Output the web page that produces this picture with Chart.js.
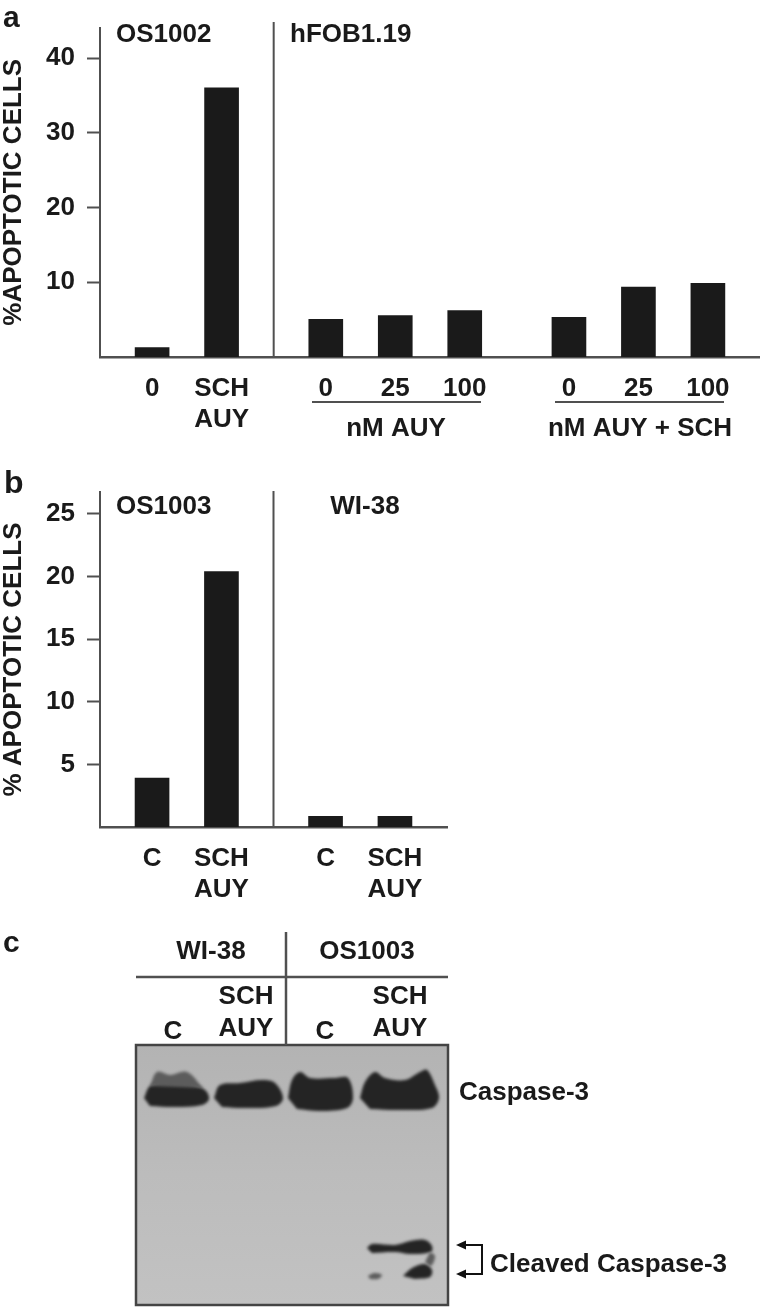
<!DOCTYPE html>
<html><head><meta charset="utf-8">
<script src="https://cdn.jsdelivr.net/npm/chart.js@4"></script>
<style>
html,body{margin:0;padding:0;background:#fff;width:760px;height:1309px;overflow:hidden}
canvas{position:absolute;left:0;filter:blur(0.55px)}
</style></head><body>
<canvas id="a" width="760" height="450" style="top:0"></canvas>
<canvas id="b" width="760" height="450" style="top:460px"></canvas>
<canvas id="c" width="760" height="389" style="top:920px"></canvas>
<script>
// Panel a
const aCategories = ['', '0', '', ['SCH','AUY'], '', '', '0', '', '25', '', '100', '', '', '0', '', '25', '', '100', ''];
const aValues = [null, 1.25, null, 36.05, null, null, 5.05, null, 5.55, null, 6.2, null, null, 5.3, null, 9.35, null, 9.85, null];
const aTicks = [10, 20, 30, 40];
const aYTitle = '%APOPTOTIC CELLS';
// Panel b
const bCategories = ['', 'C', '', ['SCH','AUY'], '', '', 'C', '', ['SCH','AUY'], ''];
const bValues = [null, 3.9, null, 20.4, null, null, 0.85, null, 0.85, null];
const bTicks = [5, 10, 15, 20, 25];
const bYTitle = '% APOPTOTIC CELLS';
// Panel c: blot band outlines
const bandCores = [
  [[144,1098],[150,1086],[165,1082],[190,1084],[205,1090],[209,1099],[202,1105],[175,1107],[150,1106]],
  [[214,1098],[220,1085],[240,1083],[262,1080],[275,1083],[283,1098],[276,1106],[245,1108],[222,1107]],
  [[288,1098],[292,1080],[300,1072],[310,1078],[335,1078],[348,1078],[353,1098],[347,1108],[320,1111],[297,1109]],
  [[360,1098],[365,1082],[375,1072],[385,1078],[405,1080],[420,1072],[427,1070],[435,1085],[439,1098],[432,1108],[400,1110],[370,1109]],
  [[367,1248],[372,1244],[395,1245],[410,1241],[425,1240],[432,1246],[431,1252],[410,1254],[395,1252],[372,1253]],
  [[403,1276],[412,1268],[425,1264],[432,1270],[430,1277],[415,1279]]
];
const bandHaze = [
  [[150,1086],[157,1072],[170,1075],[187,1072],[203,1088]],
  [[430,1252],[435,1256],[431,1266],[425,1262]],
  [[368,1276],[374,1273],[382,1275],[378,1279],[370,1279]]
];

const FONT = '"Liberation Sans", Arial, sans-serif';
const INK = '#1a1a1a', LINE = '#505050';
Chart.defaults.font.family = FONT;
Chart.defaults.animation = false;

function drawText(ctx, items){
  ctx.save();
  ctx.fillStyle = INK;
  ctx.textBaseline = 'alphabetic';
  for (const t of items){
    ctx.font = 'bold ' + (t.size || 26) + 'px ' + FONT;
    ctx.textAlign = t.align || 'center';
    ctx.fillText(t.text, t.x, t.y);
  }
  ctx.restore();
}
function drawLines(ctx, items){
  ctx.save();
  ctx.strokeStyle = LINE;
  for (const l of items){
    ctx.lineWidth = l.w || 2;
    ctx.beginPath(); ctx.moveTo(l.x1, l.y1); ctx.lineTo(l.x2, l.y2); ctx.stroke();
  }
  ctx.restore();
}

function barChart(id, cats, vals, ticks, yMax, title, top, bottom, padRight, xFit, extra){
  return new Chart(document.getElementById(id), {
    type: 'bar',
    data: { labels: cats, datasets: [{ data: vals, backgroundColor: INK, barThickness: 34, borderWidth: 0 }] },
    options: {
      responsive: false,
      layout: { padding: { top: top, right: padRight, left: 0, bottom: 0 } },
      plugins: { legend: { display: false }, tooltip: { enabled: false } },
      scales: {
        x: {
          grid: { display: false, drawTicks: false },
          border: { color: LINE, width: 2.5 },
          ticks: { autoSkip: false, maxRotation: 0, minRotation: 0, padding: 16, color: INK,
                   font: { size: 26, weight: 'bold', lineHeight: 1.2 } },
          afterFit: s => { s.height = xFit; }
        },
        y: {
          min: 0, max: yMax,
          afterBuildTicks: s => { s.ticks = ticks.map(v => ({ value: v })); },
          grid: { drawOnChartArea: false, tickLength: 13, tickWidth: 2, color: LINE },
          border: { color: LINE, width: 2 },
          ticks: { padding: 12, color: INK, font: { size: 26, weight: 'bold' } },
          title: { display: true, text: title, color: INK, padding: { top: 1, bottom: 0 },
                   font: { size: 26, weight: 'bold', lineHeight: 1 } },
          afterFit: s => { s.width = 100; }
        }
      }
    },
    plugins: [{ id: 'notes', afterDraw: c => extra(c) }]
  });
}

barChart('a', aCategories, aValues, aTicks, 44.1, aYTitle, 23, 0, 0, 93, c => {
  const x = c.scales.x, ctx = c.ctx, a = c.chartArea;
  drawLines(ctx, [
    { x1: x.getPixelForValue(4.5), y1: 22, x2: x.getPixelForValue(4.5), y2: a.bottom },
    { x1: 312, y1: 402, x2: 481, y2: 402 },
    { x1: 555, y1: 402, x2: 724, y2: 402 }
  ]);
  drawText(ctx, [
    { text: 'a', x: 3, y: 27, align: 'left', size: 30 },
    { text: 'OS1002', x: 116, y: 42, align: 'left' },
    { text: 'hFOB1.19', x: 290, y: 42, align: 'left' },
    { text: 'nM AUY', x: 396, y: 436 },
    { text: 'nM AUY + SCH', x: 640, y: 436 }
  ]);
});

barChart('b', bCategories, bValues, bTicks, 26.75, bYTitle, 32, 0, 313, 83, c => {
  const x = c.scales.x, ctx = c.ctx, a = c.chartArea;
  drawLines(ctx, [{ x1: x.getPixelForValue(4.5), y1: 31, x2: x.getPixelForValue(4.5), y2: a.bottom }]);
  drawText(ctx, [
    { text: 'b', x: 4, y: 33, align: 'left', size: 32 },
    { text: 'OS1003', x: 116, y: 54, align: 'left' },
    { text: 'WI-38', x: 365, y: 54 }
  ]);
});

const bandSet = (pts, colour) => ({
  data: pts.map(p => ({ x: p[0], y: p[1] })),
  showLine: true, borderWidth: 0, pointRadius: 0, tension: 0.35,
  fill: 'shape', backgroundColor: colour, borderColor: colour
});
new Chart(document.getElementById('c'), {
  type: 'scatter',
  data: { datasets: [
    ...bandHaze.map(p => bandSet(p, '#5c5c5c')),
    ...bandCores.map(p => bandSet(p, '#242424'))
  ]},
  options: {
    responsive: false,
    layout: { padding: { left: 136, right: 312, top: 125, bottom: 4 } },
    plugins: { legend: { display: false }, tooltip: { enabled: false } },
    scales: {
      x: { type: 'linear', display: false, min: 136, max: 448 },
      y: { type: 'linear', display: false, min: 1045, max: 1305, reverse: true }
    }
  },
  plugins: [{
    id: 'blot',
    beforeDatasetsDraw(c){
      const a = c.chartArea, ctx = c.ctx;
      const g = ctx.createLinearGradient(0, a.top, 0, a.bottom);
      g.addColorStop(0, '#b3b3b3'); g.addColorStop(0.5, '#bcbcbc'); g.addColorStop(1, '#c2c2c2');
      ctx.save(); ctx.fillStyle = g; ctx.fillRect(a.left, a.top, a.width, a.height); ctx.restore();
      ctx.save(); ctx.filter = 'blur(1.6px)';
    },
    afterDatasetsDraw(c){ c.ctx.restore(); },
    afterDraw(c){
      const a = c.chartArea, ctx = c.ctx;
      ctx.save(); ctx.strokeStyle = '#444'; ctx.lineWidth = 2.5; ctx.strokeRect(a.left, a.top, a.width, a.height); ctx.restore();
      drawLines(ctx, [
        { x1: 136, y1: 57, x2: 448, y2: 57, w: 2.5 },
        { x1: 286, y1: 12, x2: 286, y2: 125, w: 2.5 }
      ]);
      ctx.save();
      ctx.strokeStyle = '#111'; ctx.fillStyle = '#111'; ctx.lineWidth = 2;
      ctx.beginPath(); ctx.moveTo(462, 325); ctx.lineTo(482, 325); ctx.lineTo(482, 354); ctx.lineTo(462, 354); ctx.stroke();
      for (const y of [325, 354]) {
        ctx.beginPath(); ctx.moveTo(456, y); ctx.lineTo(466, y - 4.5); ctx.lineTo(466, y + 4.5); ctx.closePath(); ctx.fill();
      }
      ctx.restore();
      drawText(ctx, [
        { text: 'c', x: 3, y: 32, align: 'left', size: 30 },
        { text: 'WI-38', x: 211, y: 39 },
        { text: 'OS1003', x: 367, y: 39 },
        { text: 'SCH', x: 246, y: 84 },
        { text: 'AUY', x: 246, y: 116 },
        { text: 'C', x: 173, y: 119 },
        { text: 'SCH', x: 400, y: 84 },
        { text: 'AUY', x: 400, y: 116 },
        { text: 'C', x: 325, y: 119 },
        { text: 'Caspase-3', x: 459, y: 180, align: 'left' },
        { text: 'Cleaved Caspase-3', x: 490, y: 352, align: 'left' }
      ]);
    }
  }]
});
</script>
</body></html>
